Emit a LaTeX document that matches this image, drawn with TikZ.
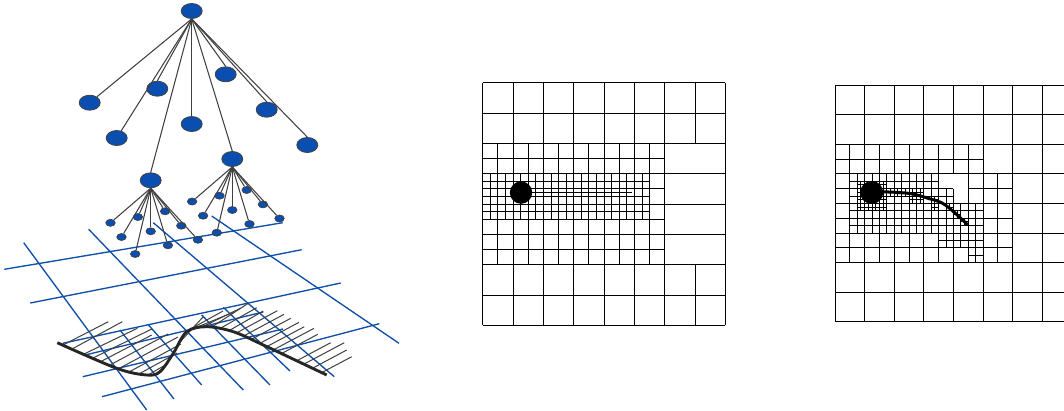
\documentclass[tikz,border=0pt]{standalone}
\usetikzlibrary{positioning,shapes.geometric}
\definecolor{meshblue}{HTML}{1150A8}
\definecolor{nodeblue}{HTML}{0A4FB0}
\definecolor{linegray}{HTML}{404040}
\begin{document}
\begin{tikzpicture}[
      x=1pt, y=-1pt, on grid,
      big/.style={ellipse, draw=linegray, line width=0.8pt, fill=nodeblue, inner sep=0pt, minimum width=21pt, minimum height=15pt},
      leaf/.style={ellipse, draw=linegray, line width=0.7pt, fill=nodeblue, inner sep=0pt, minimum width=9.5pt, minimum height=7pt},
      edge/.style={draw=linegray, line width=1.05pt},
      mesh/.style={draw=meshblue, line width=1.35pt},
      hatch/.style={draw=linegray, line width=1pt},
      cell/.style={draw=black, line width=1pt},
      fine/.style={draw=black, line width=0.9pt}
  ]
    \useasboundingbox (0,0) rectangle (1064,410);
    % blue mesh under the tree
    \foreach \xa/\ya/\xb/\yb in {4.3/269.3/282.7/222.7, 30.3/303/301.7/249.7, 62.7/343.3/340.7/283, 83/355.5/263.3/312, 82.7/376.7/283/329, 102/396.7/379.3/323.7,
      23.7/242.7/146.7/410, 88.7/229.3/243.3/390, 153.3/222.7/334.3/376.7, 211.7/216/399/343.3,
      120/330/174/399, 148.5/325/201.7/385, 201.7/315/270/385, 223.3/307.3/290/371}
      \draw[mesh] (\xa,\ya) -- (\xb,\yb);
    % hatching on the curve
    \foreach \xa/\ya/\xb/\yb in {63/345/108.3/321.7, 72/349/122.3/321.7, 82/355/137.3/328.3, 92/358.5/151.7/329, 100/362/151.7/335,
      109/365.5/168/334, 118/369/178/337, 128/372.5/181/344, 138/374.5/177/353, 149/374.5/167/364,
      180/342/203/317, 187/331/223/311, 195/328/234/312, 203/326.5/241/308, 211/327.5/248.3/303.3, 220/328.5/256.7/307.7,
      229.3/330.5/263.3/311, 236.5/333/277.3/310.7, 243.6/336/284/314.3, 251.1/339.5/290.7/318.3, 259.6/343.5/299/322.3,
      266.8/346.6/304.3/326.7, 273.5/349.8/314/328.3, 281.5/353.6/317.7/334.3, 296.8/360.7/330.7/342.7, 304/364.1/344.3/342.7,
      312.6/368.2/346.7/350, 321.9/372.5/351.7/356.7}
      \draw[hatch] (\xa,\ya) -- (\xb,\yb);
    \draw[draw=black!85, line width=2.9pt] plot[smooth, tension=0.55] coordinates {(57.3,342.7) (116.7,368.3) (146.7,375) (160,371.7) (173.3,353.3) (186.7,331.7) (206.7,326.7) (233.3,331.7) (263.3,345) (326.7,375)};

    % tree
    \node[big] at (191.7,11) (root) {};
    \node[big, below left=91.7pt and 102pt of root] (top1) {};
    \node[big, below left=77.7pt and 34.4pt of root] (top2) {};
    \node[big, below left=127pt and 75pt of root] (top3) {};
    \node[big, below=113pt of root] (top4) {};
    \node[big, below right=63.3pt and 34pt of root] (top5) {};
    \node[big, below right=98.7pt and 75pt of root] (top6) {};
    \node[big, below right=134pt and 115.6pt of root] (top7) {};
    \node[big, below right=148pt and 40.6pt of root] (hubr) {};
    \node[big, below left=169.3pt and 41pt of root] (hubl) {};
    \foreach \hub in {hubl,hubr} {
      \node[leaf, below left=42.5pt and 40.2pt of \hub] (\hub1) {};
      \node[leaf, below left=36.7pt and 12.8pt of \hub] (\hub2) {};
      \node[leaf, below right=31pt and 14.4pt of \hub] (\hub3) {};
      \node[leaf, below left=56.7pt and 29.2pt of \hub] (\hub4) {};
      \node[leaf, below=51pt of \hub] (\hub5) {};
      \node[leaf, below right=45.4pt and 30.6pt of \hub] (\hub6) {};
      \node[leaf, below left=73.7pt and 15.5pt of \hub] (\hub7) {};
      \node[leaf, below right=65pt and 17.2pt of \hub] (\hub8) {};
      \node[leaf, below right=59.5pt and 47.2pt of \hub] (\hub9) {};
      \foreach \k in {1,...,9} \draw[edge] (\hub.south) -- (\hub\k);
    }
    \foreach \k in {top1,top3} \draw[edge] (root.south) -- (\k);
    \foreach \k in {top2,top4,top5,top6,top7,hubr,hubl} \draw[edge] (root.south) -- (\k.north);

    % first refined grid, straight crack
    \begin{scope}[shift={(482.8,82.8)}, x=30.33pt, y=-30.33pt]
      \foreach \k in {0,...,8} {
        \draw[cell] (\k,0) -- (\k,2);
        \draw[cell] (\k,6) -- (\k,8);
        \draw[cell] (0,\k) -- (8,\k);
      }
      \foreach \k in {0,0.5,...,6} \draw[cell] (\k,2) -- (\k,6);
      \draw[cell] (8,2) -- (8,6);
      \foreach \k in {2.5,3.5,4.5,5.5} \draw[cell] (0,\k) -- (6,\k);
      \foreach \k in {3.25,3.75,4.25} \draw[cell] (0,\k) -- (5.5,\k);
      \foreach \k in {0.25,0.75,...,5.25} \draw[cell] (\k,3) -- (\k,4.5);
      \node[circle, fill=black, inner sep=0pt, minimum size=22.4pt] at (1.26,3.62) (tipa) {};
      \coordinate (enda) at (4.92,3.62);
      \draw[draw=black, line width=1.3pt] (tipa) -- (enda);
    \end{scope}

    % second refined grid, curved crack
    \begin{scope}[shift={(835,85)}, x=29.6pt, y=-29.6pt]
      \foreach \k in {0,...,8} \draw[cell] (0,\k) -- (7.74,\k);
      \foreach \k in {0,1,2,3,5,6,7} \draw[cell] (\k,0) -- (\k,8);
      \draw[cell] (4,0) -- (4,3);
      \draw[cell] (4,3.5) -- (4,8);
      \foreach \k in {0.5,1.5,2.5,3.5,4.5} \draw[cell] (\k,2) -- (\k,6);
      \draw[cell] (5.5,3) -- (5.5,6);
      \foreach \k in {0.75,1.25,1.75,2.25,2.75,3.25} \draw[cell] (\k,3) -- (\k,5);
      \foreach \xa/\ya/\yb in {3.75/3.5/5.5, 4.25/4/5.5, 4.75/4/6} \draw[cell] (\xa,\ya) -- (\xa,\yb);
      \foreach \k/\xa/\xb in {2.5/0/5, 3.5/0/4, 3.5/4.5/6, 4.5/0/6, 5.5/0/6, 3.25/0.5/3.5, 3.75/0.5/4, 4.25/0.5/5, 4.75/0.5/5, 5.25/3.5/5, 5.75/4.5/5}
        \draw[cell] (\xa,\k) -- (\xb,\k);
      % finest cells round the disc and along the crack
      \foreach \cx/\cy in {0.75/3.25, 1/3.25, 1.25/3.25, 1.5/3.25, 0.75/3.5, 1.5/3.5, 0.75/3.75, 1.5/3.75, 0.75/4, 1/4, 1.25/4, 1.5/4,
        1.75/3.5, 2/3.5, 2.25/3.5, 2.5/3.5, 2.75/3.5, 2.5/3.75, 2.75/3.75, 3.25/3.75, 3.25/4, 3.75/4, 4/4.25, 4.25/4.5}
        \foreach \dd in {0,0.125,0.25} {
          \draw[fine] (\cx+\dd,\cy) -- (\cx+\dd,\cy+0.25);
          \draw[fine] (\cx,\cy+\dd) -- (\cx+0.25,\cy+\dd);
        }
      \node[circle, fill=black, inner sep=0pt, minimum size=23pt] at (1.24,3.63) (tipb) {};
      \draw[draw=black, line width=3pt] plot[smooth, tension=0.6] coordinates {(1.4,3.6) (2.48,3.66) (3.15,3.83) (3.72,4.05) (4.48,4.72)};
    \end{scope}
  \end{tikzpicture}
\end{document}
